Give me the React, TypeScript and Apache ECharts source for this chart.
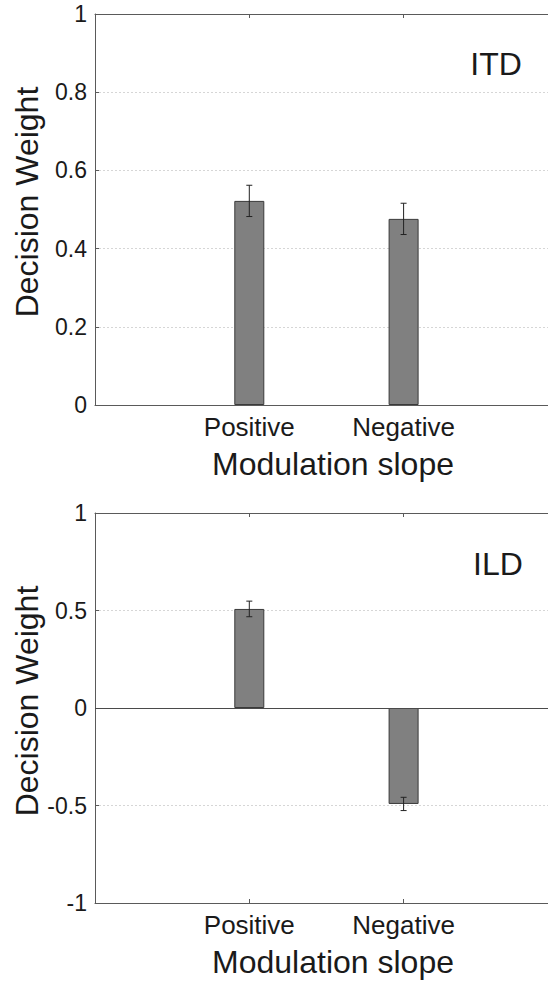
import React, { useEffect, useRef } from "react";
import * as echarts from "echarts";

const categories = ["Positive", "Negative"];
const categoryPositions = [1, 2];
const itdValues = [0.522, 0.476];
const itdErrors = [0.04, 0.04];
const ildValues = [0.508, -0.492];
const ildErrors = [0.04, 0.034];
const itdTicks = [0, 0.2, 0.4, 0.6, 0.8, 1];
const ildTicks = [-1, -0.5, 0, 0.5, 1];
const panelLabels = ["ITD", "ILD"];
const xTitle = "Modulation slope";
const yTitle = "Decision Weight";

const FONT = "'Liberation Sans', Arial, Helvetica, sans-serif";
const AXIS_COLOR = "#5a5a5a";
const TEXT_COLOR = "#1a1a1a";
const CHART_W = 548;
const X_MAX = 4;
const UNIT_PX = 154.3;

function errorRender(params: any, api: any) {
  const x = api.value(0);
  const lo = api.coord([x, api.value(1)]);
  const hi = api.coord([x, api.value(2)]);
  const cap = 3;
  const style = { stroke: "#222", lineWidth: 1 };
  return {
    type: "group",
    children: [
      { type: "line", shape: { x1: lo[0], y1: lo[1], x2: hi[0], y2: hi[1] }, style },
      { type: "line", shape: { x1: lo[0] - cap, y1: lo[1], x2: lo[0] + cap, y2: lo[1] }, style },
      { type: "line", shape: { x1: hi[0] - cap, y1: hi[1], x2: hi[0] + cap, y2: hi[1] }, style },
    ],
  };
}

export default function App() {
  const ref = useRef<HTMLDivElement>(null);
  useEffect(() => {
    if (!ref.current) return;
    const chart = echarts.init(ref.current, null, { renderer: "svg" });

    const xAxisBase = (gridIndex: number, position: "bottom" | "top", showLabel: boolean) => ({
      type: "value",
      gridIndex,
      position,
      min: 0,
      max: X_MAX,
      interval: 1,
      axisLine: { show: true, onZero: false, lineStyle: { color: AXIS_COLOR, width: 1 } },
      axisTick: {
        show: true,
        inside: true,
        length: 4,
        customValues: categoryPositions,
        lineStyle: { color: AXIS_COLOR },
      },
      minorTick: { show: false },
      axisLabel: {
        show: showLabel,
        margin: 9,
        fontSize: 26,
        fontFamily: FONT,
        color: TEXT_COLOR,
        customValues: categoryPositions,
        formatter: (v: number) => {
          const i = categoryPositions.indexOf(v);
          return i >= 0 ? categories[i] : "";
        },
      },
      splitLine: { show: false },
      minorSplitLine: { show: false },
      splitArea: { show: false },
    });

    const yAxisBase = (gridIndex: number, ticks: number[], interval: number) => ({
      type: "value",
      gridIndex,
      min: ticks[0],
      max: ticks[ticks.length - 1],
      interval,
      axisLine: { show: true, onZero: false, lineStyle: { color: AXIS_COLOR, width: 1 } },
      axisTick: { show: true, inside: true, length: 4, lineStyle: { color: AXIS_COLOR } },
      axisLabel: {
        margin: 8,
        fontSize: 23,
        fontFamily: FONT,
        color: TEXT_COLOR,
      },
      splitLine: {
        show: true,
        lineStyle: { color: "#d6d6d6", type: [2, 2], width: 1 },
      },
    });

    const barSeries = (idx: number, values: number[], withZero: boolean) => ({
      type: "bar",
      xAxisIndex: idx * 2,
      yAxisIndex: idx,
      barWidth: 30,
      data: values.map((v, i) => [categoryPositions[i], v]),
      itemStyle: { color: "#808080", borderColor: "#3a3a3a", borderWidth: 1 },
      silent: true,
      markLine: withZero
        ? {
            silent: true,
            symbol: "none",
            label: { show: false },
            lineStyle: { color: "#4a4a4a", type: "solid", width: 1 },
            data: [{ yAxis: 0 }],
          }
        : undefined,
    });

    const errSeries = (idx: number, values: number[], errs: number[]) => ({
      type: "custom",
      xAxisIndex: idx * 2,
      yAxisIndex: idx,
      renderItem: errorRender,
      data: values.map((v, i) => [categoryPositions[i], v - errs[i], v + errs[i]]),
      z: 10,
      silent: true,
    });

    const titleText = (x: number, y: number, text: string, rotate = false) => ({
      type: "text",
      x,
      y,
      rotation: rotate ? Math.PI / 2 : 0,
      style: {
        text,
        fontSize: 32,
        fontFamily: FONT,
        fill: TEXT_COLOR,
        align: "center",
        verticalAlign: "middle",
      },
      silent: true,
    });

    const gridW = X_MAX * UNIT_PX;
    chart.setOption({
      animation: false,
      backgroundColor: "#ffffff",
      grid: [
        { left: 95, width: gridW, top: 14, height: 391, containLabel: false, outerBoundsMode: "none" },
        { left: 95, width: gridW, top: 513, height: 390, containLabel: false, outerBoundsMode: "none" },
      ],
      xAxis: [
        xAxisBase(0, "bottom", true),
        xAxisBase(0, "top", false),
        xAxisBase(1, "bottom", true),
        xAxisBase(1, "top", false),
      ],
      yAxis: [yAxisBase(0, itdTicks, 0.2), yAxisBase(1, ildTicks, 0.5)],
      series: [
        barSeries(0, itdValues, false),
        errSeries(0, itdValues, itdErrors),
        barSeries(1, ildValues, true),
        errSeries(1, ildValues, ildErrors),
      ],
      graphic: [
        titleText(333, 464, xTitle),
        titleText(333, 962, xTitle),
        titleText(27, 202, yTitle, true),
        titleText(27, 701, yTitle, true),
        titleText(496, 64, panelLabels[0]),
        titleText(498, 564, panelLabels[1]),
      ],
    });
    return () => chart.dispose();
  }, []);

  return (
    <div
      ref={ref}
      style={{ position: "absolute", left: 0, top: 0, width: CHART_W, height: 985, background: "#fff" }}
    />
  );
}
